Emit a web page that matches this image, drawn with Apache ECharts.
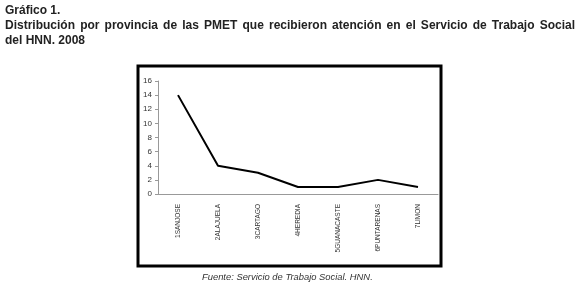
<!DOCTYPE html>
<html lang="es">
<head>
  <meta charset="UTF-8">
  <title>Gráfico 1</title>
  <script src="https://cdn.jsdelivr.net/npm/echarts@6/dist/echarts.min.js"></script>
  <style>
    html, body { margin: 0; padding: 0; background: #fff; }
    #main { width: 580px; height: 288px; }
  </style>
</head>
<body>
  <div id="main"></div>
<script>
  let provincias = ['1SANJOSE', '2ALAJUELA', '3CARTAGO', '4HEREDIA', '5GUANACASTE', '6PUNTARENAS', '7LIMON']
  let pacientes = [14, 4, 3, 1, 1, 2, 1]
  let ticksY = [0, 2, 4, 6, 8, 10, 12, 14, 16]

  let myChart = echarts.init(document.getElementById('main'))
  let font = '"Liberation Sans", Arial, sans-serif'
  let titleFont = 'bold 12px ' + font

  // segunda línea del título justificada (como en el documento original)
  function justifiedLine(text, x0, x1, top) {
    let ctx = document.createElement('canvas').getContext('2d')
    ctx.font = titleFont
    let words = text.split(' ')
    let total = 0
    words.forEach(w => { total += ctx.measureText(w).width })
    let gap = (x1 - x0 - total) / (words.length - 1)
    let x = x0
    return words.map(w => {
      let el = { type: 'text', left: x, top: top, style: { text: w, font: titleFont, fill: '#222' } }
      x += ctx.measureText(w).width + gap
      return el
    })
  }

  let option = {
    animation: false,
    backgroundColor: '#fff',
    grid: { left: 158, right: 142, top: 81, bottom: 94 },
    graphic: [
      { type: 'rect', shape: { x: 138, y: 66, width: 303, height: 200 },
        style: { fill: 'none', stroke: '#000', lineWidth: 3 } },
      { type: 'text', left: 5, top: 5,
        style: { text: 'Gráfico 1.', font: titleFont, fill: '#222' } },
      { type: 'text', left: 5, top: 35,
        style: { text: 'del HNN. 2008', font: titleFont, fill: '#222' } },
      { type: 'text', left: 202, top: 273,
        style: { text: 'Fuente: Servicio de Trabajo Social. HNN.', font: 'italic 9.4px ' + font, fill: '#333' } }
    ].concat(justifiedLine('Distribución por provincia de las PMET que recibieron atención en el Servicio de Trabajo Social', 5, 575, 20)),
    xAxis: {
      type: 'category',
      data: provincias,
      boundaryGap: true,
      axisLine: { lineStyle: { color: '#999', width: 1 } },
      axisTick: { lineStyle: { color: '#999' }, length: 3 },
      axisLabel: { rotate: 90, fontSize: 6.5, color: '#333', fontFamily: '"Liberation Sans Narrow", ' + font, margin: 10 }
    },
    yAxis: {
      type: 'value',
      min: ticksY[0],
      max: ticksY[ticksY.length - 1],
      interval: 2,
      splitLine: { show: false },
      axisLine: { show: true, lineStyle: { color: '#999', width: 1 } },
      axisTick: { show: true, lineStyle: { color: '#999' }, length: 3 },
      axisLabel: { fontSize: 8, color: '#333', fontFamily: font, margin: 6 }
    },
    series: [{
      type: 'line',
      data: pacientes,
      symbol: 'none',
      lineStyle: { color: '#000', width: 2 }
    }]
  }
  myChart.setOption(option)
</script>
</body>
</html>
